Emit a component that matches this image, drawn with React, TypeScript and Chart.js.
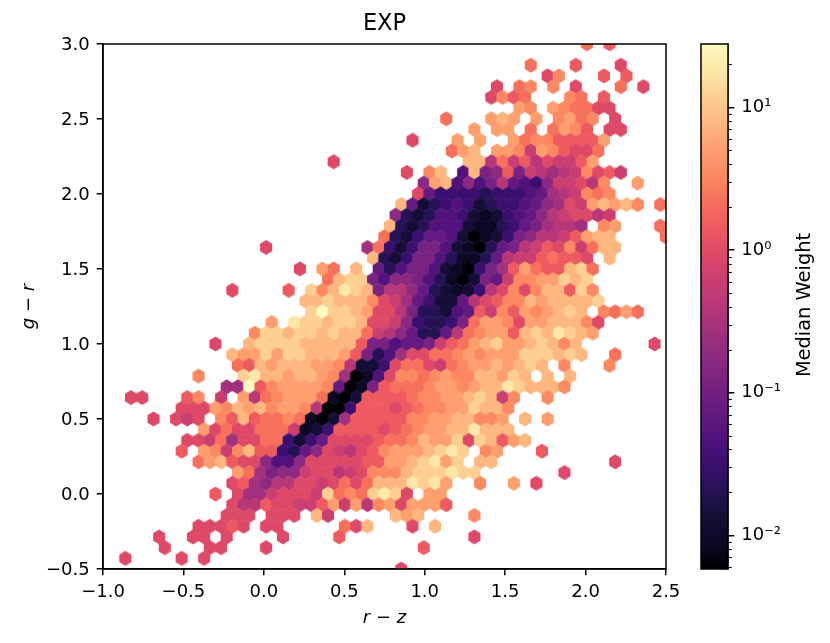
import React, { useEffect, useRef } from "react";
import { Chart, registerables } from "chart.js";

Chart.register(...registerables);
Chart.defaults.font.family = "'DejaVu Sans', sans-serif";
Chart.defaults.color = "#000";

// Each row of the hexbin, top to bottom (row 48 down to row -1).
// "col:codes" – starting column, then one code per hexagon ('.' = empty bin).
const hexRows: string[] = [
  "41:o.n",
  "",
  "36:o 40:n 44:m",
  "37:mp 42:n 44:n",
  "33:m 35:op 38:p 40:m 44:o 46:m",
  "32:mpno 39:po 42:n",
  "35:qp 38:qpoomm",
  "28:o 32:qrq 36:q 38:pqop 43:m",
  "31:q 33:qq 36:o 38:oqpn 43:mm",
  "25:m 29:q 31:q 34:qoppnnnnq",
  "29:oqr 33:qqplqpnmmo",
  "18:m 30:rrkolnkmllnq",
  "25:m 27:pr 30:frhinhlkjklpmnl",
  "26:iqrfifhkgfeillmkp 45:q",
  "26:mgeeeedeeefgjklpop",
  "24:rgcdefecdeefgijmlqrqrp 47:o",
  "24:idcdffecbcefgiklmmkl",
  "23:rdcdfffcbbdeghjkkj.pq 47:o",
  "23:odceggfcabcehikklnqrr 48:o",
  "12:m 21:joecehhfcbadghklnmplorr",
  "22:rdcehhfdbbdgkllnonnm.r",
  "15:m 17:qo 20:r 22:gdfhhfcbaehjnqonnrso",
  "18:orsshfiihfdbachglppqqsrs",
  "9:m 14:n 16:sprtsrhkkigdcbcekmpmprrnsp",
  "16:rrsrrrpmljgeccgkmnpprqrrrrs",
  "16:sussrqmmkhddcfgnlpnqpqrsr.poqo",
  "13:q.tssrssrmmlieddehoqqpmqqrrrpm",
  "11:pssrssrsrrolkigddgkopqqnrsrtsrq",
  "8:m 11:rssssrrrrrnhhfgghlnoqrsqqrsrpr 47:m",
  "9:rqqsqssrrrqnhdfjmmoopqpqqqsssrsr 43:o",
  "10:onrqrrrqqpkccemoomlopqqrqrsr.p 43:p",
  "6:p 10:strrqrrqpjabfmppopqpprrqsr.r.r",
  "9:jjunpqqqqpgabhnooopqqpqrrtsrrrp",
  "0:mm 5:np 8:l 10:qkopqqqobacnnnnoppqqrsrlp 37:p",
  "5:mmmqprqrpqqpkaaennnmnoppqqsrrp",
  "2:m 4:mlm.pnrnoopobacjnnnnnppqqrrppq 35:r 37:q",
  "7:qmommooolbcennnnmnopqqrrtrrr",
  "5:mmlojmmooecegmmmmnooprqqsmsrnqr",
  "5:n 7:qplprnnedgimlkmnpqqqrsts.pq 37:n",
  "6:oqrnmmiffimmmmmnnqqrstqs.rr 43:m",
  "10:qojhiilmmklmppprssstss 39:m",
  "9:mnjikkmmlmomorrrtstq 31:p 34:q 36:m",
  "8:n 10:mjjlmmmlsopostsm.qq",
  "9:mkknmmllnqlqkpqmqqqn",
  "9:mmm 13:mmm 17:rl 24:rqr 31:p",
  "6:mmmnm 12:mm 19:omr 25:m 27:r",
  "3:m 6:mm 9:m 14:m 19:n 31:m",
  "3:m 7:mm 12:m 26:n",
  "0:m 5:m 7:m",
  "24:m",
];

// Median weight meant by each code letter a..u
const weightCodes: number[] = [
  0.0058, 0.00886, 0.01354, 0.02068, 0.0316, 0.0483, 0.0737, 0.1127, 0.172, 0.263, 0.402,
  0.614, 0.938, 1.433, 2.19, 3.34, 5.1, 7.8, 11.9, 18.2, 27.8,
];

// Magma colour map, evenly spaced
const magma: string[] = [
  "#000004", "#0b0924", "#140e36", "#251255", "#3b0f70", "#51127c", "#641a80",
  "#782281", "#8c2981", "#a1307e", "#b73779", "#cb3e71", "#de4968", "#ed5a5f",
  "#f7705c", "#fc8961", "#fe9f6d", "#feb77e", "#fecf92", "#fde7a9", "#fcfdbf",
];

const xRange = { min: -1, max: 2.5, step: 0.5 };
const yRange = { min: -0.5, max: 3, step: 0.5 };
const colorMin = 0.0058;
const colorMax = 27.8;
const majorWeights: number[] = [0.01, 0.1, 1, 10];
const minorWeights: number[] = [
  0.006, 0.007, 0.008, 0.009,
  0.02, 0.03, 0.04, 0.05, 0.06, 0.07, 0.08, 0.09,
  0.2, 0.3, 0.4, 0.5, 0.6, 0.7, 0.8, 0.9,
  2, 3, 4, 5, 6, 7, 8, 9,
  20,
];
const powerLabels: Record<string, string> = {
  "0.01": "10⁻²",
  "0.1": "10⁻¹",
  "1": "10⁰",
  "10": "10¹",
};

// Bin lattice of the hexbin
const binX0 = -0.861;
const binDx = 0.07;
const binY0 = -0.429;
const binDy = 0.07147;
const topRow = 48;

type Bin = { x: number; y: number; w: number };

function decodeBins(): Bin[] {
  const out: Bin[] = [];
  hexRows.forEach((row, idx) => {
    const r = topRow - idx;
    const odd = ((r % 2) + 2) % 2;
    row.split(" ").filter(Boolean).forEach((seg) => {
      const [start, codes] = seg.split(":");
      [...codes].forEach((ch, i) => {
        if (ch === ".") return;
        out.push({
          x: binX0 + binDx * (Number(start) + i + odd / 2),
          y: binY0 + binDy * r,
          w: weightCodes[ch.charCodeAt(0) - 97],
        });
      });
    });
  });
  return out;
}

function colorOf(w: number): string {
  const f = Math.log(w / colorMin) / Math.log(colorMax / colorMin);
  return magma[Math.max(0, Math.min(20, Math.round(f * 20)))];
}

const sprites = new Map<string, HTMLCanvasElement>();
function hexSprite(color: string): HTMLCanvasElement {
  const hit = sprites.get(color);
  if (hit) return hit;
  const c = document.createElement("canvas");
  c.width = 14;
  c.height = 18;
  const g = c.getContext("2d")!;
  const cx = 7, cy = 9, hw = 6.05, R = 7.6;
  g.fillStyle = color;
  g.beginPath();
  g.moveTo(cx, cy - R);
  g.lineTo(cx + hw, cy - R / 2);
  g.lineTo(cx + hw, cy + R / 2);
  g.lineTo(cx, cy + R);
  g.lineTo(cx - hw, cy + R / 2);
  g.lineTo(cx - hw, cy - R / 2);
  g.closePath();
  g.fill();
  sprites.set(color, c);
  return c;
}

const fmt = (v: number | string) => Number(v).toFixed(1).replace("-", "−");

const framePlugin = {
  id: "frame",
  afterDraw(chart: any) {
    const { ctx, chartArea: a } = chart;
    ctx.save();
    ctx.strokeStyle = "#000";
    ctx.lineWidth = 1.5;
    ctx.strokeRect(a.left, a.top, a.right - a.left, a.bottom - a.top);
    ctx.restore();
  },
};

const barLegendPlugin = {
  id: "barLegend",
  afterDraw(chart: any) {
    const { ctx, chartArea: a, scales } = chart;
    ctx.save();
    ctx.strokeStyle = "#000";
    ctx.lineWidth = 1.1;
    minorWeights.forEach((w) => {
      const y = Math.round(scales.y.getPixelForValue(w)) + 0.5;
      ctx.beginPath();
      ctx.moveTo(a.right, y);
      ctx.lineTo(a.right + 3.8, y);
      ctx.stroke();
    });
    ctx.translate(115, 305);
    ctx.rotate(-Math.PI / 2);
    ctx.fillStyle = "#000";
    ctx.font = "19.4px 'DejaVu Sans'";
    ctx.textAlign = "center";
    ctx.textBaseline = "middle";
    ctx.fillText("Median Weight", 0, 0);
    ctx.restore();
  },
};

export default function App() {
  const mainRef = useRef<HTMLCanvasElement>(null);
  const barRef = useRef<HTMLCanvasElement>(null);

  useEffect(() => {
    document.body.style.margin = "0";
    const main = new Chart(mainRef.current!, {
      type: "scatter",
      data: {
        datasets: [
          {
            label: "EXP",
            data: decodeBins() as any,
            pointRadius: 7,
            pointStyle: (ctx: any) => hexSprite(colorOf(ctx.raw.w)),
          } as any,
        ],
      },
      options: {
        animation: false,
        responsive: false,
        devicePixelRatio: 1,
        events: [],
        layout: { padding: 0 },
        plugins: {
          legend: { display: false },
          tooltip: { enabled: false },
          title: {
            display: true,
            text: "EXP",
            color: "#000",
            font: { size: 22.5, weight: "normal" },
            padding: { top: 10.5, bottom: 6.5 },
          },
        },
        scales: {
          x: {
            type: "linear",
            min: xRange.min,
            max: xRange.max,
            afterFit: (s: any) => { s.height = 74; },
            grid: { drawOnChartArea: false, tickLength: 6.3, color: "#000", lineWidth: 1.5 },
            border: { color: "#000", width: 1.5 },
            ticks: {
              stepSize: xRange.step,
              callback: fmt,
              font: { size: 18 },
              color: "#000",
              padding: 6,
              maxRotation: 0,
              autoSkip: false,
            },
            title: {
              display: true,
              text: "r − z",
              color: "#000",
              font: { size: 18, style: "italic" },
              padding: { top: 0, bottom: 14.2 },
            },
          },
          y: {
            type: "linear",
            min: yRange.min,
            max: yRange.max,
            afterFit: (s: any) => { s.width = 103; },
            grid: { drawOnChartArea: false, tickLength: 6.3, color: "#000", lineWidth: 1.5 },
            border: { color: "#000", width: 1.5 },
            ticks: {
              stepSize: yRange.step,
              callback: fmt,
              font: { size: 18 },
              color: "#000",
              padding: 7,
              labelOffset: 1,
              autoSkip: false,
            },
            title: {
              display: true,
              text: "g − r",
              color: "#000",
              font: { size: 18, style: "italic" },
              padding: { top: 18.5, bottom: 0 },
            },
          },
          // empty right-hand strip, so that the title stays centred on the plot
          spacer: {
            type: "linear",
            position: "right",
            afterFit: (s: any) => { s.width = 103; },
            grid: { display: false },
            border: { display: false },
            ticks: { display: false },
          },
        },
      } as any,
      plugins: [framePlugin],
    });

    const bar = new Chart(barRef.current!, {
      type: "bar",
      data: {
        labels: ["Median Weight"],
        datasets: [
          {
            data: [[colorMin, colorMax]] as any,
            barPercentage: 1,
            categoryPercentage: 1,
            backgroundColor: (ctx: any) => {
              const a = ctx.chart.chartArea;
              if (!a) return magma[10];
              const g = ctx.chart.ctx.createLinearGradient(0, a.bottom, 0, a.top);
              magma.forEach((c, i) => g.addColorStop(i / (magma.length - 1), c));
              return g;
            },
          },
        ],
      },
      options: {
        animation: false,
        responsive: false,
        devicePixelRatio: 1,
        events: [],
        layout: { padding: { left: 11, right: 0, top: 44, bottom: 74 } },
        plugins: { legend: { display: false }, tooltip: { enabled: false } },
        scales: {
          x: { display: false },
          y: {
            type: "logarithmic",
            position: "right",
            min: colorMin,
            max: colorMax,
            afterFit: (s: any) => { s.width = 102; },
            afterBuildTicks: (s: any) => {
              s.ticks = majorWeights.map((v) => ({ value: v, major: true }));
            },
            grid: { drawOnChartArea: false, tickLength: 6.3, color: "#000", lineWidth: 1.5 },
            border: { color: "#000", width: 1.5 },
            ticks: {
              callback: (v: any) => powerLabels[String(v)] ?? "",
              font: { size: 18 },
              color: "#000",
              padding: 7,
              autoSkip: false,
            },
          },
        },
      } as any,
      plugins: [framePlugin, barLegendPlugin],
    });

    return () => {
      main.destroy();
      bar.destroy();
    };
  }, []);

  return (
    <div style={{ position: "absolute", left: 0, top: 0, width: 830, height: 643, background: "#fff", overflow: "hidden" }}>
      <canvas ref={mainRef} width={769} height={643} style={{ position: "absolute", left: 0, top: 0 }} />
      <canvas ref={barRef} width={140} height={643} style={{ position: "absolute", left: 690, top: 0 }} />
    </div>
  );
}
